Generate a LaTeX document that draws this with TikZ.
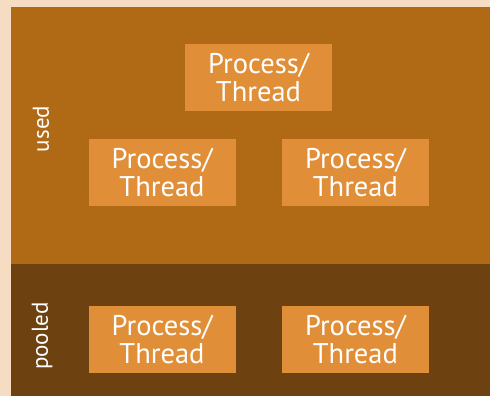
\documentclass[tikz,border=0pt]{standalone}
\usepackage{fontspec}
\setmainfont{PT Sans}
\usetikzlibrary{positioning}

\definecolor{peach}{HTML}{F5DCC2}
\definecolor{usedbrown}{HTML}{B06A16}
\definecolor{pooldbrown}{HTML}{6D4210}
\definecolor{boxorange}{HTML}{E08F38}

\begin{document}
\begin{tikzpicture}[
    x=1pt, y=-1pt,
    every node/.style={align=center, text=white}
]

\tikzset{
    workerbox/.style={fill=boxorange, minimum width=147pt, minimum height=67pt, inner sep=0pt,
        font=\fontsize{28.5}{28}\selectfont},
    arealabel/.style={rotate=90, font=\fontsize{23}{26}\selectfont}
}

% page and the two areas
\fill [peach] (0,0) rectangle (490,396);
\fill [usedbrown] (11,7) rectangle (490,264);
\fill [pooldbrown] (11,264) rectangle (490,396);
\useasboundingbox (0,0) rectangle (490,396);

\node [arealabel] (used) at (41,129) {used};
\node [arealabel] (pooled) at (42,336) {pooled};

% used workers
\node [workerbox] (top) at (258.5,77.5) {Process/\\Thread};
\node [workerbox] (usedleft) at (162,172.5) {Process/\\Thread};
\node [workerbox] (usedright) [right=46pt of usedleft] {Process/\\Thread};

% pooled workers
\node [workerbox] (poolleft) at (162,339.5) {Process/\\Thread};
\node [workerbox] (poolright) [right=46pt of poolleft] {Process/\\Thread};

\end{tikzpicture}
\end{document}
